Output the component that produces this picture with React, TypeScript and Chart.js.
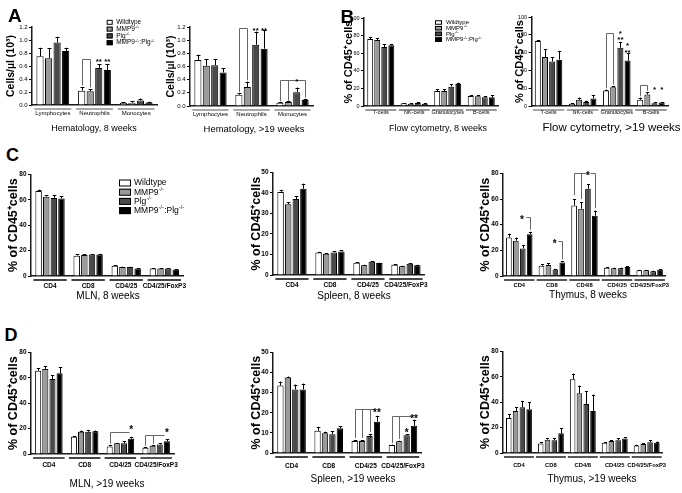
import React, { useEffect, useRef } from "react";
import { Chart, registerables } from "chart.js";
Chart.register(...registerables);

const FONT = '"Liberation Sans", Arial, Helvetica, sans-serif';
const SERIES = ["Wildtype", "MMP9-/-", "Plg-/-", "MMP9-/-:Plg-/-"];
const FILLS = ["#ffffff", "#9a9a9a", "#4a4a4a", "#000000"];
const LEGEND_PARTS: [string, string][][] = [
  [["Wildtype", ""]],
  [["MMP9", "-/-"]],
  [["Plg", "-/-"]],
  [["MMP9", "-/-"], [":Plg", "-/-"]],
];

// ---------- data ----------
const hemCats = ["Lymphocytes", "Neutrophils", "Monocytes"];
const hem8Values = [
  [0.75, 0.22, 0.03],
  [0.72, 0.21, 0.035],
  [0.96, 0.57, 0.07],
  [0.83, 0.54, 0.04],
];
const hem8Errors = [
  [0.13, 0.05, 0.01],
  [0.15, 0.03, 0.02],
  [0.09, 0.06, 0.03],
  [0.05, 0.09, 0.01],
];
const hem19Values = [
  [0.7, 0.17, 0.05],
  [0.61, 0.29, 0.06],
  [0.62, 0.93, 0.21],
  [0.51, 0.87, 0.09],
];
const hem19Errors = [
  [0.08, 0.02, 0.01],
  [0.1, 0.08, 0.01],
  [0.09, 0.2, 0.07],
  [0.06, 0.28, 0.02],
];

const flowCats = ["T-cells", "NK-cells", "Granulocytes", "B-cells"];
const flow8Values = [
  [76, 3, 17, 11.5],
  [75, 2.5, 17, 11],
  [67, 3.5, 22, 10],
  [69, 2.5, 25, 10],
];
const flow8Errors = [
  [2, 0.5, 2, 1],
  [2, 0.5, 2, 1.5],
  [3, 0.5, 3, 1],
  [1, 0.5, 1.5, 2.5],
];
const flow19Values = [
  [73, 2.5, 17.5, 7],
  [55, 7, 21, 13],
  [50, 4.5, 65.5, 3],
  [52, 8.5, 51, 4],
];
const flow19Errors = [
  [1, 0.5, 1, 2.5],
  [9, 2.5, 1, 2.5],
  [5, 1.5, 6.5, 1],
  [10, 3.5, 8, 0.5],
];

const tCats4 = ["CD4", "CD8", "CD4/25", "CD4/25/FoxP3"];
const tCats5 = ["CD4", "CD8", "CD4/8", "CD4/25", "CD4/25/FoxP3"];

const mln8Values = [
  [67, 16, 8, 6],
  [62.5, 16.5, 7, 6],
  [61.5, 17, 7, 6],
  [61, 17, 6, 5],
];
const mln8Errors = [
  [1, 1, 0.3, 0.2],
  [1, 0.5, 0.3, 0.3],
  [2, 0.3, 0.3, 0.3],
  [2, 0.5, 0.3, 0.3],
];
const spl8Values = [
  [40.5, 11, 6, 5],
  [34.5, 10.3, 4.8, 4.3],
  [37, 11, 6.5, 5.5],
  [42, 11.5, 5.8, 4.8],
];
const spl8Errors = [
  [1, 0.3, 0.2, 0.2],
  [1, 0.2, 0.2, 0.2],
  [1.5, 0.5, 0.3, 0.3],
  [2.5, 0.6, 0.2, 0.2],
];
const thy8Values = [
  [30, 8, 55, 6.5, 4.5],
  [27.5, 8.5, 52.5, 6, 4.5],
  [21.5, 5, 68, 6, 3.8],
  [32.5, 10.5, 47, 7, 4.8],
];
const thy8Errors = [
  [3, 1, 5, 0.5, 0.3],
  [2.5, 1.5, 5, 0.5, 0.3],
  [2.5, 0.5, 3.5, 0.5, 0.3],
  [2, 1, 4, 0.8, 0.3],
];
const mln19Values = [
  [65.5, 13.5, 6, 5],
  [67, 17.5, 8.5, 6.5],
  [59, 17.5, 8.5, 7.5],
  [63.5, 18, 12, 10],
];
const mln19Errors = [
  [2, 0.5, 1, 0.5],
  [2, 1, 0.3, 0.3],
  [3, 1.5, 1.5, 1],
  [5, 0.5, 1.5, 1.5],
];
const spl19Values = [
  [33.5, 11, 6, 4],
  [37.5, 9.8, 6, 5.8],
  [31.5, 9.3, 8.5, 8.8],
  [31.5, 12.3, 15.5, 13.5],
];
const spl19Errors = [
  [2, 2, 0.5, 0.2],
  [0.5, 0.8, 0.3, 0.3],
  [2.5, 1.5, 1, 0.5],
  [3, 1, 3, 3],
];
const thy19Values = [
  [27.5, 7.5, 58, 8, 6],
  [33, 10.5, 47, 9.5, 7],
  [36, 10, 38.5, 10, 8.5],
  [34.5, 15.5, 33, 11.5, 8],
];
const thy19Errors = [
  [3, 1, 4.5, 0.5, 0.5],
  [3, 1, 6, 0.5, 0.5],
  [5, 1.5, 10, 1.5, 1.5],
  [5.5, 4, 13, 1, 1],
];

// significance annotations (category index, series index, value)
type Bracket = { cat: number; from: number; to: number; top: number; legs: [number, number][] };
type Star = { cat: number; s: number; y: number; text: string };

const hem8Brackets: Bracket[] = [{ cat: 1, from: 0, to: 1, top: 0.71, legs: [[0, 0.3], [1, 0.27]] }];
const hem8Stars: Star[] = [
  { cat: 1, s: 2, y: 0.7, text: "**" },
  { cat: 1, s: 3, y: 0.7, text: "**" },
];
const hem19Brackets: Bracket[] = [
  { cat: 1, from: 0, to: 1, top: 1.19, legs: [[0, 0.21], [1, 0.39]] },
  { cat: 2, from: 0, to: 3, top: 0.39, legs: [[0, 0.07], [1, 0.08], [3, 0.13]] },
];
const hem19Stars: Star[] = [
  { cat: 1, s: 2, y: 1.18, text: "**" },
  { cat: 1, s: 3, y: 1.18, text: "**" },
  { cat: 2, s: 2, y: 0.41, text: "*" },
];
const flow19Brackets: Bracket[] = [
  { cat: 2, from: 0, to: 1, top: 82, legs: [[0, 20], [1, 24]] },
  { cat: 3, from: 0, to: 1, top: 24, legs: [[0, 11], [1, 17]] },
];
const flow19Stars: Star[] = [
  { cat: 2, s: 2, y: 84, text: "*" },
  { cat: 2, s: 2, y: 77, text: "**" },
  { cat: 2, s: 3, y: 70, text: "*" },
  { cat: 2, s: 3, y: 63, text: "**" },
  { cat: 3, s: 2, y: 21, text: "*" },
  { cat: 3, s: 3, y: 21, text: "*" },
];
const thy8Brackets: Bracket[] = [
  { cat: 0, from: 2.4, to: 3, top: 46, legs: [[3, 36]] },
  { cat: 1, from: 2.4, to: 3, top: 27, legs: [[3, 13]] },
  { cat: 2, from: 0, to: 1.7, top: 80.5, legs: [[0, 63], [1, 60]] },
  { cat: 2, from: 2.3, to: 3, top: 80.5, legs: [[3, 53]] },
];
const thy8Stars: Star[] = [
  { cat: 0, s: 1.9, y: 46, text: "*" },
  { cat: 1, s: 1.9, y: 27, text: "*" },
  { cat: 2, s: 2, y: 80.5, text: "*" },
];
const mln19Brackets: Bracket[] = [
  { cat: 2, from: 0, to: 2.7, top: 17.5, legs: [[0, 8]] },
  { cat: 3, from: 0, to: 2.6, top: 15.2, legs: [[0, 6.5], [1, 8]] },
];
const mln19Stars: Star[] = [
  { cat: 2, s: 3, y: 21, text: "*" },
  { cat: 3, s: 3, y: 19, text: "*" },
];
const spl19Brackets: Bracket[] = [
  { cat: 2, from: 0, to: 2.6, top: 21.8, legs: [[0, 7.5], [1, 7.5], [2, 10.5]] },
  { cat: 3, from: 0, to: 2.6, top: 18.5, legs: [[0, 5], [1, 7]] },
];
const spl19Stars: Star[] = [
  { cat: 2, s: 3, y: 21.5, text: "**" },
  { cat: 3, s: 2, y: 11.5, text: "*" },
  { cat: 3, s: 3, y: 18.5, text: "**" },
];

// ---------- panel layout ----------
type LegendSpec = { x: number; y: number; dy: number; bw: number; bh: number; size: number; gap: number };
type Spec = {
  id: string;
  cats: string[];
  values: number[][];
  errors: number[][];
  brackets: Bracket[];
  stars: Star[];
  yMax: number;
  yStep: number;
  decimals: number;
  yTitle: string;
  xTitle: string;
  titleAt: [number, number];
  plot: [number, number, number, number];
  yw: number;
  xh: number;
  pt: number;
  pr: number;
  catPct: number;
  barPct: number;
  tickSize: number;
  tickWeight: string;
  catSize: number;
  catWeight: string;
  xPad: number;
  xTitleSize: number;
  yTitleSize: number;
  starSize: number;
  ulWidth: number;
  ulColor: string;
  legend?: LegendSpec;
};

const small = {
  tickSize: 6,
  tickWeight: "normal",
  catSize: 6,
  catWeight: "normal",
  xPad: 4.4,
  xTitleSize: 9.5,
  yTitleSize: 11,
  starSize: 8,
  ulWidth: 1.2,
  ulColor: "#555",
  catPct: 0.82,
  barPct: 0.84,
};
const large = {
  tickSize: 6.5,
  tickWeight: "bold",
  catSize: 6.5,
  catWeight: "bold",
  xPad: 6,
  xTitleSize: 10,
  yTitleSize: 12.5,
  starSize: 10,
  ulWidth: 1.8,
  ulColor: "#444",
  catPct: 0.8,
  barPct: 0.85,
};
const CD45 = "% of CD45\u207Acells";
const CELLS = "Cells/\u00B5l (10\u00B3)";

const PANELS: Spec[] = [
  {
    ...small, id: "A1", cats: hemCats, values: hem8Values, errors: hem8Errors, brackets: hem8Brackets, stars: hem8Stars,
    yMax: 1.2, yStep: 0.2, decimals: 1, yTitle: CELLS, xTitle: "Hematology, 8 weeks", yTitleSize: 10.5, xTitleSize: 9,
    titleAt: [94, 128.5],
    plot: [32, 27, 157, 105], yw: 27, xh: 29, pt: 9, pr: 12,
    legend: { x: 106.7, y: 22.3, dy: 6.8, bw: 6, bh: 5, size: 6.5, gap: 3.5 },
  },
  {
    ...small, id: "A2", cats: hemCats, values: hem19Values, errors: hem19Errors, brackets: hem19Brackets, stars: hem19Stars,
    yMax: 1.2, yStep: 0.2, decimals: 1, yTitle: CELLS, xTitle: "Hematology, >19 weeks", yTitleSize: 10.5, xTitleSize: 9.5,
    titleAt: [254, 129.5],
    plot: [190, 27, 313, 106], yw: 25, xh: 30, pt: 6, pr: 3,
  },
  {
    ...small, id: "B1", cats: flowCats, values: flow8Values, errors: flow8Errors, brackets: [], stars: [],
    yMax: 100, yStep: 20, decimals: 0, yTitle: CD45, xTitle: "Flow cytometry, 8 weeks", catSize: 5.5, tickSize: 5.5, xPad: 3.4,
    xTitleSize: 9, titleAt: [438, 129],
    plot: [364, 18, 498, 106], yw: 22, xh: 29, pt: 5, pr: 3, catPct: 0.84,
    legend: { x: 435, y: 22.5, dy: 5.7, bw: 7, bh: 4.5, size: 6, gap: 4 },
  },
  {
    ...small, id: "B2", cats: flowCats, values: flow19Values, errors: flow19Errors, brackets: flow19Brackets, stars: flow19Stars,
    yMax: 100, yStep: 20, decimals: 0, yTitle: CD45, xTitle: "Flow cytometry, >19 weeks", catSize: 5.5, tickSize: 5.5, xPad: 3.4,
    xTitleSize: 11.5, titleAt: [611, 128],
    plot: [531, 17, 668, 106], yw: 18.5, xh: 28, pt: 5, pr: 13, catPct: 0.84,
  },
  {
    ...large, id: "C1", cats: tCats4, values: mln8Values, errors: mln8Errors, brackets: [], stars: [],
    yMax: 80, yStep: 20, decimals: 0, yTitle: CD45, xTitle: "MLN, 8 weeks", titleAt: [108, 296],
    plot: [31, 174, 185, 276], yw: 25, xh: 26, pt: 5, pr: 8,
    legend: { x: 119, y: 183, dy: 9.2, bw: 12, bh: 7, size: 8.5, gap: 3 },
  },
  {
    ...large, id: "C2", cats: tCats4, values: spl8Values, errors: spl8Errors, brackets: [], stars: [],
    yMax: 50, yStep: 10, decimals: 0, yTitle: CD45, xTitle: "Spleen, 8 weeks", titleAt: [354, 296],
    plot: [273, 172, 431, 275], yw: 24, xh: 27, pt: 5, pr: 3,
  },
  {
    ...large, id: "C3", cats: tCats5, values: thy8Values, errors: thy8Errors, brackets: thy8Brackets, stars: thy8Stars,
    yMax: 80, yStep: 20, decimals: 0, yTitle: CD45, xTitle: "Thymus, 8 weeks", titleAt: [588, 295], catSize: 5.8, xPad: 6.4,
    plot: [503, 173, 670, 276], yw: 25, xh: 25, pt: 5, pr: 6, catPct: 0.85, barPct: 0.82,
  },
  {
    ...large, id: "D1", cats: tCats4, values: mln19Values, errors: mln19Errors, brackets: mln19Brackets, stars: mln19Stars,
    yMax: 80, yStep: 20, decimals: 0, yTitle: CD45, xTitle: "MLN, >19 weeks", xPad: 7.8, titleAt: [107, 484],
    plot: [31, 352, 183, 454], yw: 25, xh: 36, pt: 5, pr: 3,
  },
  {
    ...large, id: "D2", cats: tCats4, values: spl19Values, errors: spl19Errors, brackets: spl19Brackets, stars: spl19Stars,
    yMax: 50, yStep: 10, decimals: 0, yTitle: CD45, xTitle: "Spleen, >19 weeks", xPad: 9, titleAt: [353, 479.5],
    plot: [273, 352, 431, 453], yw: 24, xh: 32, pt: 5, pr: 3,
  },
  {
    ...large, id: "D3", cats: tCats5, values: thy19Values, errors: thy19Errors, brackets: [], stars: [],
    yMax: 80, yStep: 20, decimals: 0, yTitle: CD45, xTitle: "Thymus, >19 weeks", xPad: 9.4, titleAt: [592, 479.5],
    catSize: 5.8,
    plot: [503, 351, 670, 453], yw: 25, xh: 32, pt: 5, pr: 6, catPct: 0.85, barPct: 0.82,
  },
];

const LETTERS = [
  { t: "A", x: 8, y: 5.5, size: 19 },
  { t: "B", x: 340.5, y: 6.5, size: 19 },
  { t: "C", x: 6, y: 146, size: 18 },
  { t: "D", x: 4.5, y: 326, size: 18 },
];

// ---------- drawing helpers ----------
function makeExtras(s: Spec, cl: number, ct: number) {
  return {
    id: "extras_" + s.id,
    afterDatasetsDraw(chart: any) {
      const ctx: CanvasRenderingContext2D = chart.ctx;
      const ys = chart.scales.y;
      const metas = [0, 1, 2, 3].map((i) => chart.getDatasetMeta(i));
      const xOf = (cat: number, sv: number) => {
        const i0 = Math.min(Math.floor(sv), 2);
        const f = sv - i0;
        const a = metas[i0].data[cat].x;
        const b = metas[i0 + 1].data[cat].x;
        return a + (b - a) * f;
      };
      const px = (v: number) => Math.round(v) + 0.5;
      ctx.save();
      // category underlines
      ctx.strokeStyle = s.ulColor;
      ctx.lineWidth = s.ulWidth;
      for (let c = 0; c < s.cats.length; c++) {
        const b0 = metas[0].data[c];
        const b3 = metas[3].data[c];
        const yy = ys.bottom + 4;
        ctx.beginPath();
        ctx.moveTo(b0.x - b0.width / 2 - 2, yy);
        ctx.lineTo(b3.x + b3.width / 2 + 2, yy);
        ctx.stroke();
      }
      // error bars (upward)
      ctx.strokeStyle = "#000";
      ctx.lineWidth = 1;
      s.errors.forEach((errs, si) => {
        errs.forEach((e, c) => {
          const v = s.values[si][c];
          const bar = metas[si].data[c];
          const x = px(bar.x);
          const yTop = ys.getPixelForValue(v + e);
          const yBar = ys.getPixelForValue(v);
          const cap = Math.max(1.5, bar.width * 0.28);
          ctx.beginPath();
          ctx.moveTo(x, yBar);
          ctx.lineTo(x, yTop);
          ctx.moveTo(x - cap, px(yTop));
          ctx.lineTo(x + cap, px(yTop));
          ctx.stroke();
        });
      });
      // brackets
      ctx.strokeStyle = "#666";
      ctx.lineWidth = 1;
      s.brackets.forEach((br) => {
        const yt = px(ys.getPixelForValue(br.top));
        ctx.beginPath();
        ctx.moveTo(px(xOf(br.cat, br.from)), yt);
        ctx.lineTo(px(xOf(br.cat, br.to)), yt);
        br.legs.forEach(([si, v]) => {
          const x = px(xOf(br.cat, si));
          ctx.moveTo(x, yt);
          ctx.lineTo(x, ys.getPixelForValue(v));
        });
        ctx.stroke();
      });
      // stars
      ctx.fillStyle = "#000";
      ctx.textAlign = "center";
      ctx.textBaseline = "alphabetic";
      ctx.font = `bold ${s.starSize}px ${FONT}`;
      s.stars.forEach((st) => {
        ctx.fillText(st.text, xOf(st.cat, st.s), ys.getPixelForValue(st.y) + s.starSize * 0.58);
      });
      // x-axis title
      ctx.font = `${s.xTitleSize}px ${FONT}`;
      ctx.textBaseline = "middle";
      ctx.fillText(s.xTitle, s.titleAt[0] - cl, s.titleAt[1] - ct);
      // legend
      if (s.legend) {
        const L = s.legend;
        LEGEND_PARTS.forEach((parts, i) => {
          const cy = L.y + i * L.dy - ct;
          const bx = L.x - cl;
          ctx.fillStyle = FILLS[i];
          ctx.fillRect(bx, cy - L.bh / 2, L.bw, L.bh);
          ctx.strokeStyle = "#000";
          ctx.lineWidth = 1;
          ctx.strokeRect(bx + 0.5, cy - L.bh / 2 + 0.5, L.bw - 1, L.bh - 1);
          let tx = bx + L.bw + L.gap;
          ctx.fillStyle = "#000";
          ctx.textAlign = "left";
          ctx.textBaseline = "middle";
          parts.forEach(([base, sup]) => {
            ctx.font = `${L.size}px ${FONT}`;
            ctx.fillText(base, tx, cy);
            tx += ctx.measureText(base).width;
            if (sup) {
              ctx.font = `${L.size * 0.62}px ${FONT}`;
              ctx.fillText(sup, tx + 0.3, cy - L.size * 0.33);
              tx += ctx.measureText(sup).width + 0.6;
            }
          });
        });
      }
      ctx.restore();
    },
  };
}

function buildConfig(s: Spec, cl: number, ct: number): any {
  return {
    type: "bar",
    data: {
      labels: s.cats,
      datasets: SERIES.map((name, i) => ({
        label: name,
        data: s.values[i],
        backgroundColor: FILLS[i],
        borderColor: "#000",
        borderWidth: 1,
        categoryPercentage: s.catPct,
        barPercentage: s.barPct,
      })),
    },
    options: {
      responsive: false,
      animation: false,
      devicePixelRatio: 1,
      events: [],
      layout: { autoPadding: false, padding: { top: s.pt, right: s.pr, bottom: 0, left: 0 } },
      plugins: { legend: { display: false }, tooltip: { enabled: false } },
      scales: {
        x: {
          grid: { display: false, drawTicks: false, tickLength: 0 },
          border: { display: true, color: "#1a1a1a", width: 1.5 },
          ticks: {
            color: "#000",
            font: { family: FONT, size: s.catSize, weight: s.catWeight },
            padding: s.xPad,
            maxRotation: 0,
            minRotation: 0,
            autoSkip: false,
          },
          title: { display: false },
          afterFit: (sc: any) => {
            sc.height = s.xh;
          },
        },
        y: {
          min: 0,
          max: s.yMax,
          grid: { display: true, drawOnChartArea: false, drawTicks: true, tickLength: 3, color: "#000", lineWidth: 1 },
          border: { display: true, color: "#1a1a1a", width: 1.5 },
          ticks: {
            stepSize: s.yStep,
            color: "#000",
            font: { family: FONT, size: s.tickSize, weight: s.tickWeight },
            padding: 1.5,
            callback: (v: any) => Number(v).toFixed(s.decimals),
          },
          title: {
            display: true,
            text: s.yTitle,
            color: "#000",
            font: { family: FONT, size: s.yTitleSize, weight: "bold" },
            padding: 0,
          },
          afterFit: (sc: any) => {
            sc.width = s.yw;
          },
        },
      },
    },
    plugins: [makeExtras(s, cl, ct)],
  };
}

function Panel({ spec }: { spec: Spec }) {
  const ref = useRef<HTMLCanvasElement>(null);
  const [l, t, r, b] = spec.plot;
  const left = l - spec.yw;
  const top = t - spec.pt;
  const width = r - l + spec.yw + spec.pr;
  const height = b - t + spec.pt + spec.xh;
  useEffect(() => {
    const chart = new Chart(ref.current as HTMLCanvasElement, buildConfig(spec, left, top));
    return () => chart.destroy();
  }, []);
  return (
    <canvas
      ref={ref}
      width={width}
      height={height}
      style={{ position: "absolute", left, top, width, height, display: "block" }}
    />
  );
}

export default function App() {
  return (
    <div
      style={{
        position: "absolute",
        left: 0,
        top: 0,
        width: 682,
        height: 493,
        background: "#fff",
        overflow: "hidden",
        fontFamily: FONT,
      }}
    >
      {PANELS.map((p) => (
        <Panel key={p.id} spec={p} />
      ))}
      {LETTERS.map((L) => (
        <div
          key={L.t}
          style={{
            position: "absolute",
            left: L.x,
            top: L.y,
            fontSize: L.size,
            lineHeight: 1,
            fontWeight: "bold",
            color: "#000",
          }}
        >
          {L.t}
        </div>
      ))}
    </div>
  );
}
